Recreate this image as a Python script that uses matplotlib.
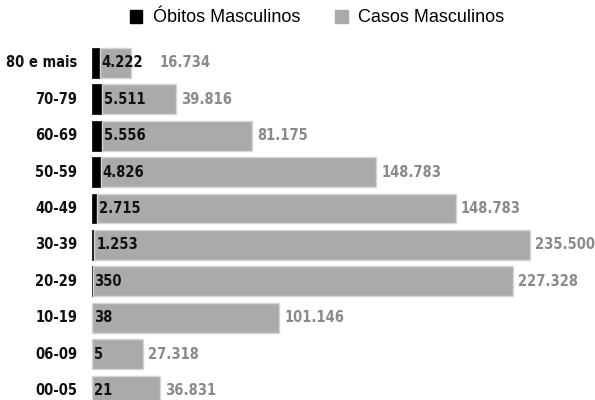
import matplotlib.pyplot as plt
from matplotlib.patches import Patch

## DATA
faixas = ['80 e mais', '70-79', '60-69', '50-59', '40-49',
          '30-39', '20-29', '10-19', '06-09', '00-05']
obitos = [4222, 5511, 5556, 4826, 2715, 1253, 350, 38, 5, 21]
casos = [16734, 39816, 81175, 148783, 194000, 235500, 227328, 101146, 27318, 36831]
obitos_txt = ['4.222', '5.511', '5.556', '4.826', '2.715', '1.253', '350', '38', '5', '21']
casos_txt = ['16.734', '39.816', '81.175', '148.783', '148.783', '235.500',
             '227.328', '101.146', '27.318', '36.831']

plt.rcParams['font.family'] = ['Liberation Sans', 'DejaVu Sans']

fig = plt.figure(figsize=(5.95, 4.0), dpi=100)
ax = fig.add_axes([0, 0, 1, 1])

y = list(range(len(faixas)))
preto = '#000000'
cinza = '#a9abab'

ax.barh(y, obitos, height=0.82, color=preto, edgecolor=preto, linewidth=0.5)
ax.barh(y, casos, left=obitos, height=0.82, color=cinza, edgecolor='#d4d6d6', linewidth=1)

ax.set_xlim(-49730, 271900)
ax.set_ylim(9.26, -1.73)
ax.set_axis_off()

rotulo = dict(fontsize=10.5, fontweight='bold', family='DejaVu Sans', fontstretch='condensed')
fig.canvas.draw()
renderer = fig.canvas.get_renderer()
inv = ax.transData.inverted()
for i in y:
    t = ax.text(obitos[i] + 1000, i, obitos_txt[i], va='center', ha='left',
                color='#111111', **rotulo)
    # case label goes after the bar, or after the death label if that sticks out
    fim_txt = inv.transform(t.get_window_extent(renderer))[1][0]
    x_caso = max(obitos[i] + casos[i] + 2700, fim_txt + 9000)
    ax.text(x_caso, i, casos_txt[i], va='center', ha='left',
            color='#8a8a8a', **rotulo)
    ax.text(-8000, i, faixas[i], va='center', ha='right',
            color='#111111', **rotulo)

handles = [Patch(color=preto, label='Óbitos Masculinos'),
           Patch(color=cinza, label='Casos Masculinos')]
fig.legend(handles=handles, loc='center', bbox_to_anchor=(0.533, 0.955), ncol=2,
           frameon=False, fontsize=13, handlelength=0.7, handleheight=0.7,
           handletextpad=0.6, columnspacing=1.9)

plt.savefig('out.png', dpi=100)
